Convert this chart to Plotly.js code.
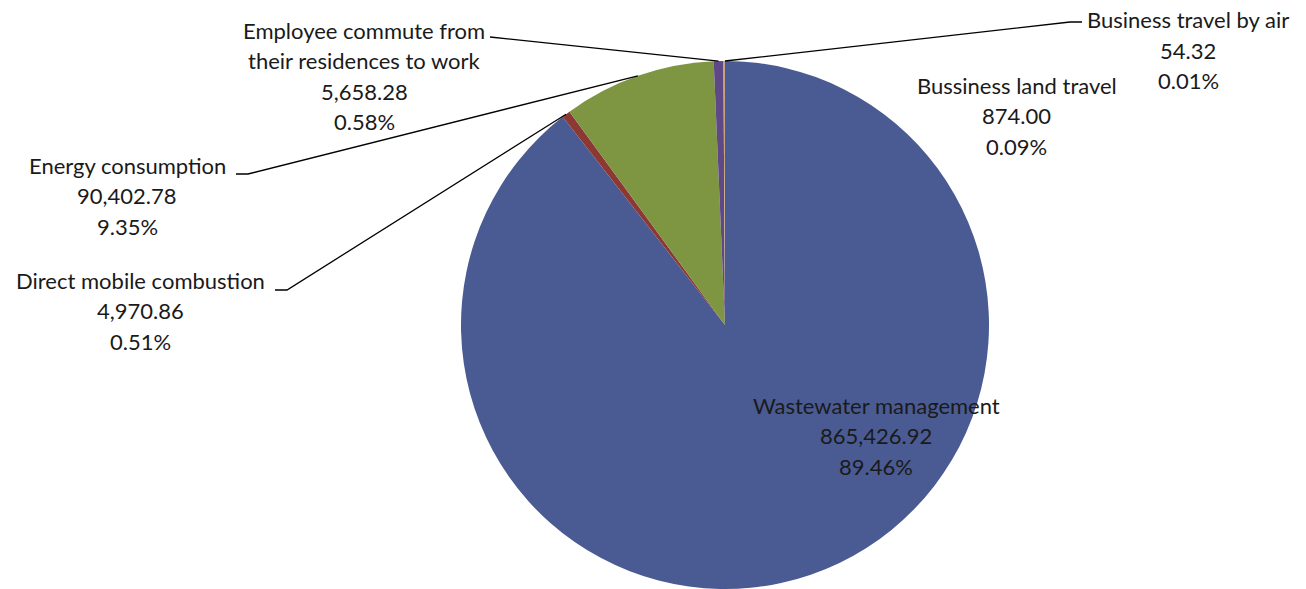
<!DOCTYPE html>
<html>
<head>
<meta charset="utf-8">
<script src="https://cdn.plot.ly/plotly-3.0.1.min.js"></script>
<style>html,body{margin:0;padding:0;background:#fff;}#chart{width:1306px;height:589px;}</style>
</head>
<body>
<div id="chart"></div>
<script>
// ---- data ----
const labels = ['Wastewater management', 'Direct mobile combustion', 'Energy consumption',
  'Employee commute from<br>their residences to work', 'Bussiness land travel', 'Business travel by air'];
const values = [865426.92, 4970.86, 90402.78, 5658.28, 874.00, 54.32];
const colors = ['#4a5a92', '#8c3835', '#7e9642', '#5e4885', '#c0a27c', '#d0883c'];

// ---- layout helpers (pixel positions of label blocks: center x, first line y) ----
const W = 1306, H = 589;
const cx = 725, cy = 325, R = 264;
const labelPos = [[876, 405], [140, 280], [127, 165], [364, 30], [1017, 85], [1188, 20]];
// leader line label-side points (pixels), null = no leader
const leaderStart = [null, [[275, 290], [287, 290]], [[236, 174], [248, 174]], [[490, 37]], null, [[1082, 22], [1070, 22]]];
const lineGap = 30.5;

const total = values.reduce((a, b) => a + b, 0);
const fmt = v => v.toLocaleString('en-US', {minimumFractionDigits: 2, maximumFractionDigits: 2});
const pct = v => (v / total * 100).toFixed(2) + '%';
const px = x => x / W;
const py = y => 1 - y / H;

const annotations = [];
const shapes = [];
let cum = 0;
values.forEach((v, i) => {
  const lines = labels[i].split('<br>').concat([fmt(v), pct(v)]);
  const [lx, ly] = labelPos[i];
  lines.forEach((t, k) => {
    annotations.push({
      xref: 'paper', yref: 'paper', x: px(lx), y: py(ly + k * lineGap),
      xanchor: 'center', yanchor: 'middle', showarrow: false, text: t,
      font: {family: 'Lato, "Open Sans", sans-serif', size: 22, color: '#1a1a1a'}
    });
  });
  const mid = (cum + v / 2) / total;
  cum += v;
  if (leaderStart[i]) {
    const th = mid * 2 * Math.PI;
    const ex = cx + R * Math.sin(th), ey = cy - R * Math.cos(th);
    const pts = leaderStart[i].concat([[ex, ey]]);
    const d = pts.map((p, k) => (k ? 'L' : 'M') + px(p[0]) + ',' + py(p[1])).join(' ');
    shapes.push({type: 'path', xref: 'paper', yref: 'paper', path: d, line: {color: '#000', width: 1.3}});
  }
});

const data = [{
  type: 'pie', labels: labels, values: values, sort: false, direction: 'clockwise', rotation: 0,
  marker: {colors: colors, line: {width: 0}}, textinfo: 'none', hoverinfo: 'label+value+percent',
  domain: {x: [(cx - R) / W, (cx + R) / W], y: [1 - (cy + R) / H, 1 - (cy - R) / H]}
}];

const layout = {
  width: W, height: H, margin: {l: 0, r: 0, t: 0, b: 0}, showlegend: false,
  paper_bgcolor: '#fff', annotations: annotations, shapes: shapes
};
Plotly.newPlot('chart', data, layout, {displayModeBar: false, staticPlot: true});
</script>
</body>
</html>
